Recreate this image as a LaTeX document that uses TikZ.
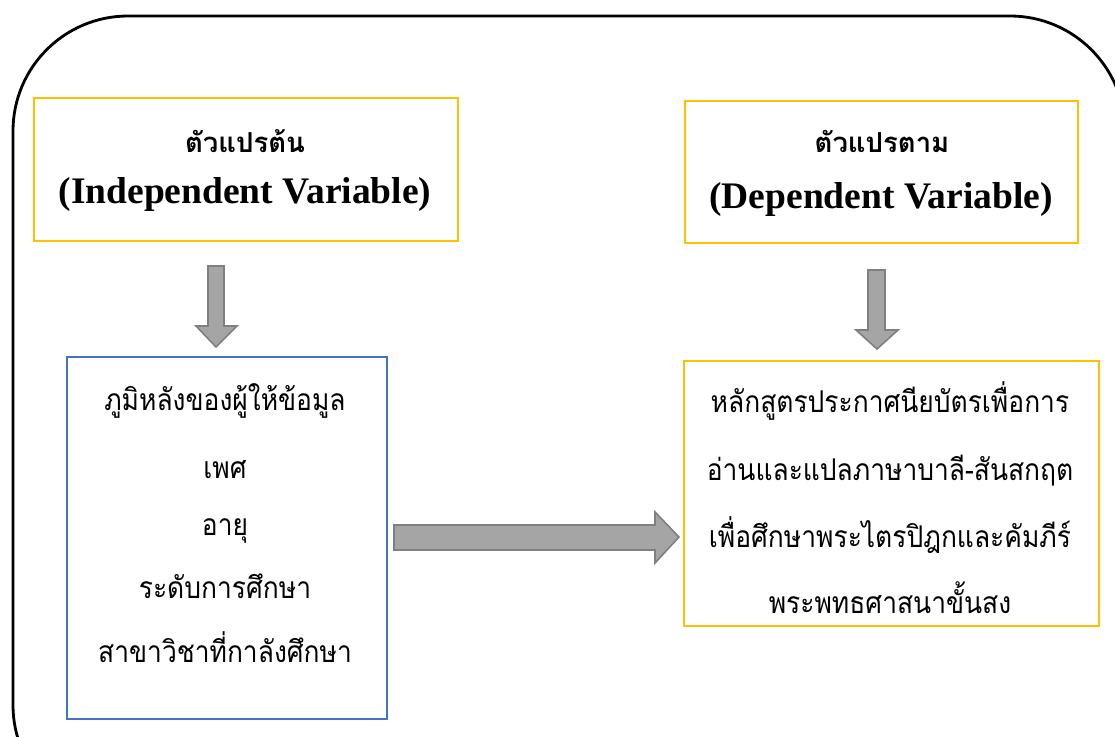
\documentclass[tikz,border=0pt]{standalone}
\usepackage{fontspec}
\setmainfont{Liberation Serif}
\newfontfamily\thaifont[Script=Thai]{Loma}
\newfontfamily\thaibody[Script=Thai,FakeStretch=0.88]{Loma}
\usetikzlibrary{calc}
\definecolor{ybox}{HTML}{FFC000}
\definecolor{bbox}{HTML}{4472C4}
\definecolor{afill}{HTML}{A5A5A5}
\definecolor{aline}{HTML}{7F7F7F}
\tikzset{
  ybx/.style={draw=ybox, line width=2.2pt, fill=white, inner sep=0pt},
  bbx/.style={draw=bbox, line width=1.8pt, fill=white, inner sep=0pt},
  blockarr/.style={fill=afill, draw=aline, line width=1.6pt, line join=miter},
  headth/.style={anchor=base, inner sep=0pt, font=\thaifont\bfseries\fontsize{27.5}{32}\selectfont},
  heden/.style={anchor=base, inner sep=0pt, font=\bfseries\fontsize{37.5}{42}\selectfont},
  bodyth/.style={anchor=base, inner sep=0pt, font=\thaibody\fontsize{30}{34}\selectfont},
}
\begin{document}
\begin{tikzpicture}[x=1pt,y=-1pt]
\useasboundingbox (0,0) rectangle (1115,736);
\begin{scope}
\clip (0,0) rectangle (1115,736);
\draw[line width=2.8pt, rounded corners=115pt] (13,16) rectangle (1125,820);
\end{scope}
% boxes
\draw[ybx] (34,98) rectangle (458,241);
\draw[ybx] (685,101) rectangle (1078,243);
\draw[bbx] (67,357) rectangle (387,719);
\draw[ybx] (684,361) rectangle (1099,626);
% heading texts
\node[headth] (ivth) at (245,152) {ตัวแปรต้น};
\node[heden] (iven) at (245,203) {(Independent Variable)};
\node[headth] (dvth) at (882,152) {ตัวแปรตาม};
\node[heden] (dven) at (881,208) {(Dependent Variable)};
% left body lines
\node[bodyth] (l1) at (225,410) {ภูมิหลังของผู้ให้ข้อมูล};
\node[bodyth] (l2) at (225,478) {เพศ};
\node[bodyth] (l3) at (225,535) {อายุ};
\node[bodyth] (l4) at (225,598) {ระดับการศึกษา};
\node[bodyth] (l5) at (225,662) {สาขาวิชาที่กาลังศึกษา};
% right body lines
\node[bodyth] (r1) at (890,412) {หลักสูตรประกาศนียบัตรเพื่อการ};
\node[bodyth] (r2) at (890,480) {อ่านและแปลภาษาบาลี-สันสกฤต};
\node[bodyth] (r3) at (890,547) {เพื่อศึกษาพระไตรปิฎกและคัมภีร์};
\node[bodyth] (r4) at (890,613) {พระพทธศาสนาขั้นสง};
% block arrows
\draw[blockarr] (208,266) -- (224,266) -- (224,326) -- (237,326) -- (216,347) -- (196,326) -- (208,326) -- cycle;
\draw[blockarr] (868,270) -- (885,270) -- (885,330) -- (898,330) -- (877,349) -- (856,330) -- (868,330) -- cycle;
\draw[blockarr] (394,525) -- (655,525) -- (655,512) -- (679,537) -- (655,563) -- (655,550) -- (394,550) -- cycle;
\end{tikzpicture}
\end{document}
